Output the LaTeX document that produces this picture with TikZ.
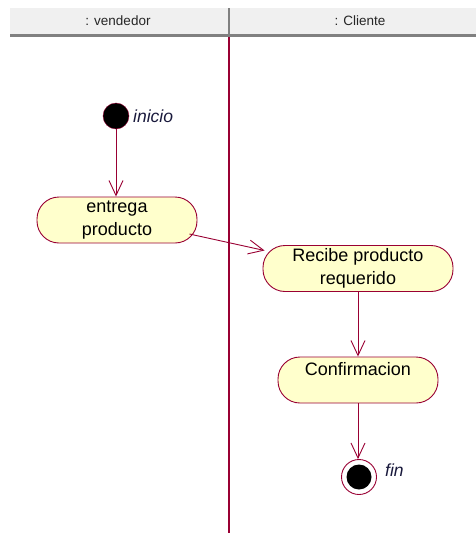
\documentclass[tikz,border=0pt]{standalone}
\usepackage{fontspec}
\setmainfont{Liberation Sans}
\usetikzlibrary{arrows.meta}
\definecolor{umlline}{RGB}{153,0,51}
\definecolor{umlfill}{RGB}{255,255,204}
\definecolor{hdrfill}{RGB}{240,240,240}
\definecolor{hdrline}{RGB}{128,128,128}
\definecolor{lbl}{RGB}{25,25,60}
\begin{document}
\begin{tikzpicture}[x=1pt,y=-1pt,
  activity/.style={draw=umlline, fill=umlfill, rounded corners=22pt, line width=0.9pt,
    minimum height=46pt, align=center, inner sep=0pt,
    font=\fontsize{18}{22.5}\selectfont},
  flow/.style={draw=umlline, line width=0.9pt, -{Straight Barb[length=15pt,width=14pt]}},
  lanelabel/.style={font=\fontsize{13.5}{14}\selectfont, text=black!85},
  statelabel/.style={font=\fontsize{17.5}{18}\itshape, text=lbl, anchor=west, inner sep=0pt},
]
\useasboundingbox (0,0) rectangle (476,533);

% swimlane header
\fill[hdrfill] (10,8) rectangle (476,34);
\draw[hdrline, line width=3pt] (10,35) -- (476,35);
\draw[hdrline, line width=2.5pt] (229,8) -- (229,36);
\node[lanelabel] (laneA) at (118,21) {: vendedor};
\node[lanelabel] (laneB) at (360,21) {: Cliente};

% lane separator
\draw[umlline, line width=1.2pt] (229,37) -- (229,533);

% initial state
\node[circle, fill=black, draw=umlline, minimum size=26pt, inner sep=0pt] (start) at (116,116) {};
\node[statelabel] (startlbl) at (133,116) {inicio};

% activities
\node[activity, minimum width=160pt] (entrega) at (117,220) {entrega\\producto};
\node[activity, minimum width=190pt] (recibe) at (358,268.5) {Recibe producto\\requerido};
\node[activity, minimum width=160pt] (confirm) at (358,380) {Confirmacion\\\mbox{}};

% final state
\node[circle, draw=umlline, fill=white, line width=0.9pt, minimum size=35pt, inner sep=0pt] (fin) at (359,477) {};
\node[circle, fill=black, minimum size=25pt, inner sep=0pt] (findot) at (fin.center) {};
\node[statelabel] (finlbl) at (385,470) {fin};

% transitions
\draw[flow] (start.south) -- (start.south |- entrega.north);
\draw[flow] ([xshift=-8pt,yshift=-14pt]entrega.east) -- ([xshift=2pt,yshift=18pt]recibe.west);
\draw[flow] (recibe.south) -- (confirm.north);
\draw[flow] (confirm.south) -- (confirm.south |- fin.north);
\end{tikzpicture}
\end{document}
